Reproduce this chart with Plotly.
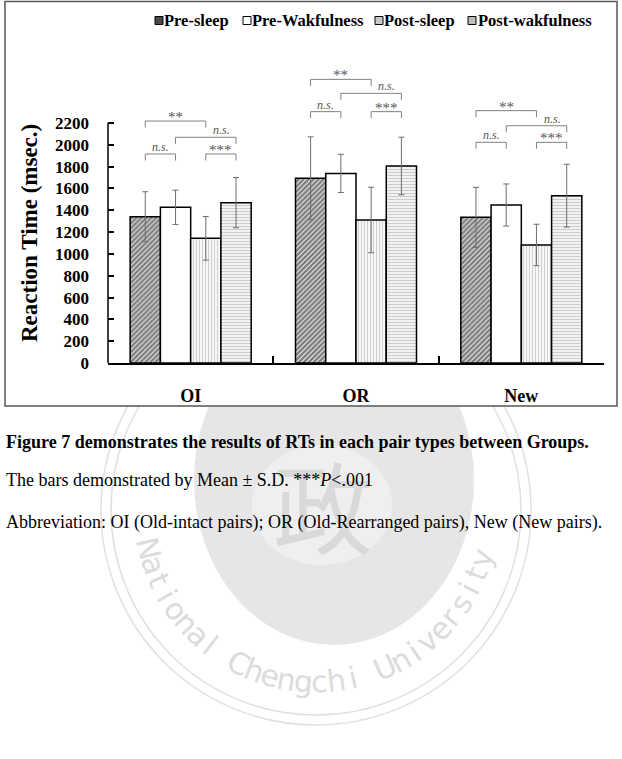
import math
import plotly.graph_objects as go

categories = ["OI", "OR", "New"]
series_names = ["Pre-sleep", "Pre-Wakfulness", "Post-sleep", "Post-wakfulness"]
pre_sleep = [1341, 1693, 1335]
pre_sleep_sd = [229, 380, 275]
pre_wake = [1427, 1738, 1448]
pre_wake_sd = [157, 175, 193]
post_sleep = [1143, 1311, 1082]
post_sleep_sd = [200, 300, 190]
post_wake = [1470, 1806, 1534]
post_wake_sd = [230, 264, 288]
y_ticks = [0, 200, 400, 600, 800, 1000, 1200, 1400, 1600, 1800, 2000, 2200]

# significance brackets: heights per category (top "**", long "n.s.", short pairs)
bracket_top = [2218, 2600, 2313]
bracket_long = [2069, 2472, 2175]
bracket_short = [1916, 2304, 2023]

FONT = "Liberation Serif"
W, H = 622, 759
L, R, T, B = 108, 18, 63, 396
PW, PH = W - L - R, H - T - B
BOTTOM = H - B

def px(x):
    return (x - L) / PW

def py(y):
    return (BOTTOM - y) / PH

values = [pre_sleep, pre_wake, post_sleep, post_wake]
sds = [pre_sleep_sd, pre_wake_sd, post_sleep_sd, post_wake_sd]
patterns = [
    dict(shape="/", fgcolor="#000000", bgcolor="white", size=3.5, solidity=0.75),
    dict(shape="", bgcolor="white"),
    dict(shape="|", fgcolor="#a0a0a0", bgcolor="white", size=3, solidity=0.45),
    dict(shape="-", fgcolor="#9a9a9a", bgcolor="white", size=3, solidity=0.5),
]

fig = go.Figure()
for name, v, sd, pat in zip(series_names, values, sds, patterns):
    fig.add_trace(go.Bar(
        x=categories, y=v, name=name,
        marker=dict(color="white", pattern=pat, line=dict(color="black", width=1.5)),
        error_y=dict(type="data", array=sd, visible=True, color="#6e6e6e", thickness=1, width=3),
        showlegend=False,
    ))

bargap = 0.268
bw = (1 - bargap) / 4
offs = [(k - 1.5) * bw for k in range(4)]

shapes = []
annotations = []

# ---- watermark (behind the chart box) ----
wm_c = "#e0e0e0"
cx, cy = 316, 510
for r in (215, 205):
    shapes.append(dict(type="circle", xref="paper", yref="paper", layer="below",
                       x0=px(cx - r), x1=px(cx + r), y0=py(cy + r), y1=py(cy - r),
                       line=dict(color=wm_c, width=1.5)))
shapes.append(dict(type="circle", xref="paper", yref="paper", layer="below",
                   x0=px(334 - 140), x1=px(334 + 140), y0=py(480 + 165), y1=py(480 - 165),
                   fillcolor="#e6e6e6", line=dict(width=0)))
shapes.append(dict(type="circle", xref="paper", yref="paper", layer="below",
                   x0=px(322 - 70), x1=px(322 + 70), y0=py(565), y1=py(445),
                   fillcolor="#efefef", line=dict(width=0)))
annotations.append(dict(x=px(323), y=py(503), xref="paper", yref="paper", text="政", showarrow=False,
                        xanchor="center", yanchor="middle",
                        font=dict(family="Noto Sans CJK TC", size=100, color="#d9d9d9")))
wm_text = "National Chengchi University"
a0, a1 = 167.0, 16.0
n = len(wm_text)
for k, ch in enumerate(wm_text):
    if ch == " ":
        continue
    th = a0 + (a1 - a0) * k / (n - 1)
    t = math.radians(th)
    lx = cx + 172 * math.cos(t)
    ly = cy + 172 * math.sin(t)
    annotations.append(dict(x=px(lx), y=py(ly), xref="paper", yref="paper", text=ch, showarrow=False,
                            textangle=th - 90, xanchor="center", yanchor="middle",
                            font=dict(family="DejaVu Sans", size=30, color="#dcdcdc")))

# outer chart box (opaque)
shapes.append(dict(type="rect", xref="paper", yref="paper", x0=px(5), x1=px(617), y0=py(406), y1=py(1.5),
                   fillcolor="white", line=dict(color="#555555", width=1.5), layer="below"))

drop = 60
line_c = "#808080"
for ci in range(len(categories)):
    specs = [
        (0, 2, bracket_top[ci], "**"),
        (1, 3, bracket_long[ci], "n.s."),
        (0, 1, bracket_short[ci], "n.s."),
        (2, 3, bracket_short[ci], "***"),
    ]
    for idx, (i, j, yv, lab) in enumerate(specs):
        x0 = ci + offs[i]
        x1 = ci + offs[j]
        shapes.append(dict(type="path", xref="x", yref="y",
                           path=f"M {x0},{yv - drop} L {x0},{yv} L {x1},{yv} L {x1},{yv - drop}",
                           line=dict(color=line_c, width=1)))
        if lab == "n.s.":
            txt = "<i>n.s.</i>"
            fs = 12
            ys = 7
        else:
            txt = lab
            fs = 15
            ys = 4
        if idx == 1:
            annotations.append(dict(x=x1, y=yv, xref="x", yref="y", text=txt, showarrow=False,
                                    xanchor="right", yanchor="middle", xshift=-4, yshift=ys,
                                    font=dict(family=FONT, size=fs, color="#555555")))
        else:
            annotations.append(dict(x=(x0 + x1) / 2, y=yv, xref="x", yref="y", text=txt, showarrow=False,
                                    xanchor="center", yanchor="middle", yshift=ys,
                                    font=dict(family=FONT, size=fs, color="#555555")))

# y axis line (only up to 2200)
shapes.append(dict(type="line", xref="paper", yref="y", x0=0, x1=0, y0=0, y1=y_ticks[-1],
                   line=dict(color="black", width=1.5)))

# manual legend
leg_sw = [155, 243, 375, 468]
leg_tx = [163, 251, 383, 477]
leg_fill = ["#4a4a4a", "white", "#c8c8c8", "#bdbdbd"]
for name, sx, tx, fc in zip(series_names, leg_sw, leg_tx, leg_fill):
    shapes.append(dict(type="rect", xref="paper", yref="paper", x0=px(sx), x1=px(sx + 8),
                       y0=py(24.5), y1=py(16.5), fillcolor=fc, line=dict(color="black", width=1)))
    annotations.append(dict(x=px(tx - 1), y=py(20), xref="paper", yref="paper", text=f"<b>{name}</b>",
                            showarrow=False, xanchor="left", yanchor="middle",
                            font=dict(family=FONT, size=16.5, color="black")))

# y title
annotations.append(dict(x=px(29), y=py(233), xref="paper", yref="paper", text="<b>Reaction Time (msec.)</b>",
                        showarrow=False, textangle=-90, xanchor="center", yanchor="middle",
                        font=dict(family=FONT, size=23, color="black")))

# captions
annotations.append(dict(x=px(4), y=py(442), xref="paper", yref="paper",
                        text="<b>Figure 7 demonstrates the results of RTs in each pair types between Groups.</b>",
                        showarrow=False, xanchor="left", yanchor="middle",
                        font=dict(family=FONT, size=18, color="black")))
annotations.append(dict(x=px(4), y=py(480), xref="paper", yref="paper",
                        text="The bars demonstrated by Mean ± S.D. ***<i>P</i><.001",
                        showarrow=False, xanchor="left", yanchor="middle",
                        font=dict(family=FONT, size=18, color="black")))
annotations.append(dict(x=px(4), y=py(522), xref="paper", yref="paper",
                        text="Abbreviation: OI (Old-intact pairs); OR (Old-Rearranged pairs), New (New pairs).",
                        showarrow=False, xanchor="left", yanchor="middle",
                        font=dict(family=FONT, size=18, color="black")))

fig.update_layout(
    width=W, height=H,
    margin=dict(l=L, r=R, t=T, b=B, pad=0),
    paper_bgcolor="white", plot_bgcolor="rgba(0,0,0,0)",
    barmode="group", bargap=bargap, bargroupgap=0,
    showlegend=False,
    shapes=shapes, annotations=annotations,
    xaxis=dict(type="category", tickson="boundaries", ticks="inside", ticklen=7, tickwidth=1.5,
               tickcolor="black", showline=True, linecolor="black", linewidth=1.5,
               showgrid=False, zeroline=False, ticklabelstandoff=16,
               tickfont=dict(family=FONT, size=18, color="black", weight="bold")),
    yaxis=dict(range=[0, 2750], tickvals=y_ticks, ticks="inside", ticklen=6, tickwidth=1.5,
               tickcolor="black", showline=False, showgrid=False, zeroline=False,
               ticklabelstandoff=18,
               tickfont=dict(family=FONT, size=17, color="black", weight="bold")),
)

fig.write_html("out.html")
